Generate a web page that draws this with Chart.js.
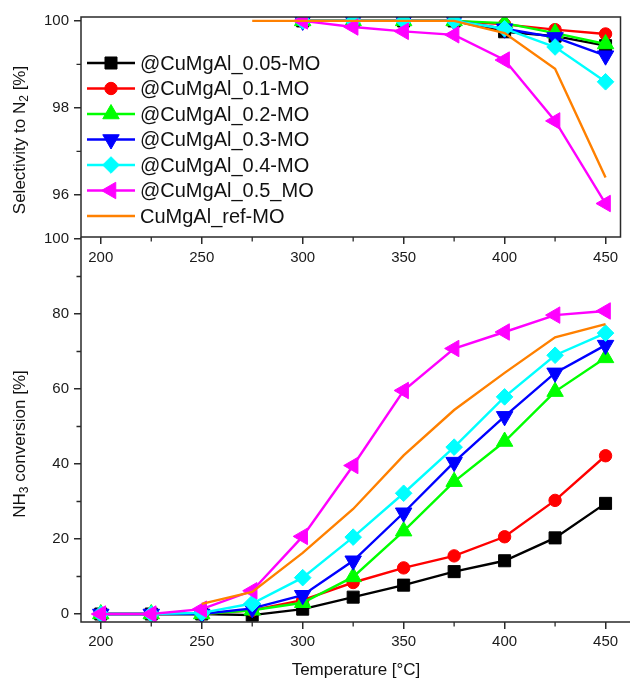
<!DOCTYPE html>
<html><head><meta charset="utf-8">
<script src="https://cdn.jsdelivr.net/npm/chart.js@4.4.0/dist/chart.umd.min.js"></script>
<style>
html,body{margin:0;padding:0;background:#fff;}
#wrap{position:relative;width:631px;height:681px;background:#fff;}
#bot{position:absolute;left:0;top:0;}
#top{position:absolute;left:0;top:0;pointer-events:none;}
</style></head><body>
<div id="wrap">
<canvas id="bot" width="631" height="681" style="width:631px;height:681px"></canvas>
<canvas id="top" width="631" height="270" style="width:631px;height:270px"></canvas>
</div>
<script>
// ---------------- DATA ----------------
const temperatures = [200, 225, 250, 275, 300, 325, 350, 375, 400, 425, 450];
const seriesNames = ['@CuMgAl_0.05-MO', '@CuMgAl_0.1-MO', '@CuMgAl_0.2-MO', '@CuMgAl_0.3-MO', '@CuMgAl_0.4-MO', '@CuMgAl_0.5_MO', 'CuMgAl_ref-MO'];

// Selectivity to N2 [%]
const sel005 = [null, null, null, null, 100, 100, 100, 100, 99.75, 99.65, 99.43];
const sel01  = [null, null, null, null, 100, 100, 100, 100, 99.92, 99.8, 99.7];
const sel02  = [null, null, null, null, 100, 100, 100, 100, 99.95, 99.72, 99.47];
const sel03  = [null, null, null, null, 100, 100, 100, 100, 99.82, 99.62, 99.2];
const sel04  = [null, null, null, null, 100, 100, 100, 100, 99.82, 99.4, 98.6];
const sel05  = [null, null, null, null, 100, 99.86, 99.76, 99.68, 99.1, 97.7, 95.8];
const selRef = [null, null, null, 100, 100, 100, 100, 100, 99.72, 98.9, 96.4];

// NH3 conversion [%]
const conv005 = [0, 0, 0, -0.3, 1.3, 4.5, 7.7, 11.3, 14.2, 20.3, 29.5];
const conv01  = [0, 0, 0, 1.0, 3.7, 8.4, 12.3, 15.5, 20.6, 30.3, 42.2];
const conv02  = [0, 0, 0, 1.0, 3.0, 9.9, 22.1, 35.3, 46.0, 59.3, 68.3];
const conv03  = [0, 0, 0, 1.5, 5.0, 14.2, 27.0, 40.5, 52.7, 64.3, 71.7];
const conv04  = [0, 0, 0.3, 2.8, 9.7, 20.5, 32.2, 44.5, 57.9, 69.0, 74.9];
const conv05  = [0, 0, 1.3, 6.2, 20.7, 39.6, 59.6, 70.8, 75.2, 79.7, 80.8];
const convRef = [null, null, 2.7, 5.9, 16.3, 28.0, 42.3, 54.4, 64.3, 73.8, 77.3];

const xTicks = [200, 250, 300, 350, 400, 450];
const xMinorTicks = [225, 275, 325, 375, 425];
const selTicks = [96, 98, 100];
const selMinorTicks = [97, 99];
const convTicks = [0, 20, 40, 60, 80, 100];
const convMinorTicks = [10, 30, 50, 70, 90];

// ---------------- STYLE ----------------
const FONT = '"Liberation Sans", Arial, Helvetica, sans-serif';
const AXIS = '#2a2a2a';
const LINE_W = 2.4;
const styles = [
  {color: '#000000', pointStyle: 'rect', rotation: 0, radius: 8.5},
  {color: '#FF0000', pointStyle: 'circle', rotation: 0, radius: 6.2},
  {color: '#00FF00', pointStyle: 'triangle', rotation: 0, radius: 9.5},
  {color: '#0000FF', pointStyle: 'triangle', rotation: 180, radius: 9.5},
  {color: '#00FFFF', pointStyle: 'rectRot', rotation: 0, radius: 8.3},
  {color: '#FF00FF', pointStyle: 'triangle', rotation: -90, radius: 9.5},
  {color: '#FF8000', pointStyle: false, rotation: 0, radius: 0}
];

function makeDatasets(seriesList) {
  return seriesList.map((vals, i) => {
    const s = styles[i];
    return {
      label: seriesNames[i],
      data: temperatures.map((t, k) => ({x: t, y: vals[k]})),
      borderColor: s.color,
      backgroundColor: s.color,
      borderWidth: LINE_W,
      pointStyle: s.pointStyle,
      pointRotation: s.rotation,
      pointRadius: s.radius,
      pointHoverRadius: s.radius,
      pointBorderWidth: 1,
      pointBorderColor: s.color,
      pointBackgroundColor: s.color,
      tension: 0,
      order: 7 - i,
      clip: 0
    };
  });
}

const framePlugin = {
  id: 'frame',
  afterDraw(chart, args, opts) {
    const {ctx, chartArea: a} = chart;
    const x = chart.scales.x, y = chart.scales.y;
    ctx.save();
    ctx.strokeStyle = AXIS;
    ctx.lineWidth = 1.5;
    ctx.beginPath();
    if (opts.full) {
      ctx.rect(a.left, a.top, a.right - a.left, a.bottom - a.top);
    } else {
      ctx.moveTo(a.left, a.top);
      ctx.lineTo(a.left, a.bottom);
      ctx.lineTo(opts.extendRight || a.right, a.bottom);
    }
    ctx.stroke();
    ctx.lineWidth = 1.3;
    ctx.beginPath();
    (opts.xMinor || []).forEach(v => {
      const px = x.getPixelForValue(v);
      ctx.moveTo(px, a.bottom); ctx.lineTo(px, a.bottom + 4.5);
    });
    (opts.yMinor || []).forEach(v => {
      const py = y.getPixelForValue(v);
      ctx.moveTo(a.left, py); ctx.lineTo(a.left - 4.5, py);
    });
    ctx.stroke();
    ctx.restore();
  }
};

function drawMarker(ctx, s, x, y) {
  if (!s.pointStyle) return;
  if (Chart.helpers && Chart.helpers.drawPoint) {
    ctx.fillStyle = s.color; ctx.strokeStyle = s.color; ctx.lineWidth = 1;
    Chart.helpers.drawPoint(ctx, {pointStyle: s.pointStyle, rotation: s.rotation, radius: s.radius, borderWidth: 1}, x, y);
    return;
  }
  ctx.fillStyle = s.color;
  ctx.beginPath();
  ctx.arc(x, y, s.radius, 0, Math.PI * 2);
  ctx.fill();
}

const legendPlugin = {
  id: 'customLegend',
  afterDraw(chart) {
    const ctx = chart.ctx;
    ctx.save();
    ctx.font = '20px ' + FONT;
    ctx.textBaseline = 'middle';
    ctx.textAlign = 'left';
    seriesNames.forEach((name, i) => {
      const s = styles[i];
      const yy = 63 + i * 25.5;
      ctx.strokeStyle = s.color;
      ctx.lineWidth = LINE_W;
      ctx.beginPath();
      ctx.moveTo(87, yy); ctx.lineTo(135, yy);
      ctx.stroke();
      drawMarker(ctx, s, 111, yy);
      ctx.fillStyle = '#111';
      ctx.fillText(name, 140, yy + 1);
    });
    ctx.restore();
  }
};

function drawRotatedTitle(ctx, cx, cy, parts) {
  ctx.save();
  ctx.translate(cx, cy);
  ctx.rotate(-Math.PI / 2);
  ctx.textBaseline = 'middle';
  ctx.textAlign = 'left';
  const main = '17px ' + FONT, small = '12px ' + FONT;
  let w = 0;
  parts.forEach(p => { ctx.font = p.sub ? small : main; w += ctx.measureText(p.t).width; });
  let xx = -w / 2;
  ctx.fillStyle = '#111';
  parts.forEach(p => {
    ctx.font = p.sub ? small : main;
    ctx.fillText(p.t, xx, p.sub ? 5 : 0);
    xx += ctx.measureText(p.t).width;
  });
  ctx.restore();
}

const titlePlugin = {
  id: 'titles',
  afterDraw(chart) {
    const ctx = chart.ctx;
    drawRotatedTitle(ctx, 20, 140, [{t: 'Selectivity to N'}, {t: '2', sub: true}, {t: ' [%]'}]);
    drawRotatedTitle(ctx, 20, 444, [{t: 'NH'}, {t: '3', sub: true}, {t: ' conversion [%]'}]);
    ctx.save();
    ctx.font = '17px ' + FONT;
    ctx.fillStyle = '#111';
    ctx.textAlign = 'center';
    ctx.textBaseline = 'middle';
    ctx.fillText('Temperature [°C]', 356, 670);
    ctx.restore();
  }
};

function xScale(height, pad) {
  return {
    type: 'linear', min: 190.2, max: 457.4,
    afterBuildTicks: s => { s.ticks = xTicks.map(v => ({value: v})); },
    afterFit: s => { s.height = height; },
    grid: {display: true, drawOnChartArea: false, drawTicks: true, tickLength: 7, color: AXIS, lineWidth: 1.5},
    border: {display: false},
    ticks: {font: {family: FONT, size: 15}, color: '#1a1a1a', padding: pad, maxRotation: 0, autoSkip: false,
      callback: v => String(v)}
  };
}
function yScale(min, max, ticks) {
  return {
    type: 'linear', min: min, max: max,
    afterBuildTicks: s => { s.ticks = ticks.map(v => ({value: v})); },
    afterFit: s => { s.width = 81; },
    grid: {display: true, drawOnChartArea: false, drawTicks: true, tickLength: 7, color: AXIS, lineWidth: 1.5},
    border: {display: false},
    ticks: {font: {family: FONT, size: 15}, color: '#1a1a1a', padding: 5, autoSkip: false,
      callback: v => String(v)}
  };
}

const common = {
  responsive: false,
  animation: false,
  devicePixelRatio: 1,
  events: [],
  plugins: {legend: {display: false}, tooltip: {enabled: false}}
};

new Chart(document.getElementById('bot'), {
  type: 'line',
  data: {datasets: makeDatasets([conv005, conv01, conv02, conv03, conv04, conv05, convRef])},
  options: Object.assign({}, common, {
    layout: {padding: {top: 237, right: 6, left: 0, bottom: 0}},
    scales: {x: xScale(59, 4), y: yScale(-2.13, 100.53, convTicks)},
    plugins: Object.assign({}, common.plugins, {
      frame: {full: false, xMinor: xMinorTicks, yMinor: convMinorTicks, extendRight: 630}
    })
  }),
  plugins: [framePlugin, titlePlugin]
});

new Chart(document.getElementById('top'), {
  type: 'line',
  data: {datasets: makeDatasets([sel005, sel01, sel02, sel03, sel04, sel05, selRef])},
  options: Object.assign({}, common, {
    layout: {padding: {top: 17, right: 6, left: 0, bottom: 0}},
    scales: {x: xScale(33, 5), y: yScale(95.03, 100.09, selTicks)},
    plugins: Object.assign({}, common.plugins, {
      frame: {full: true, xMinor: xMinorTicks, yMinor: selMinorTicks}
    })
  }),
  plugins: [framePlugin, legendPlugin]
});
</script>
</body></html>
